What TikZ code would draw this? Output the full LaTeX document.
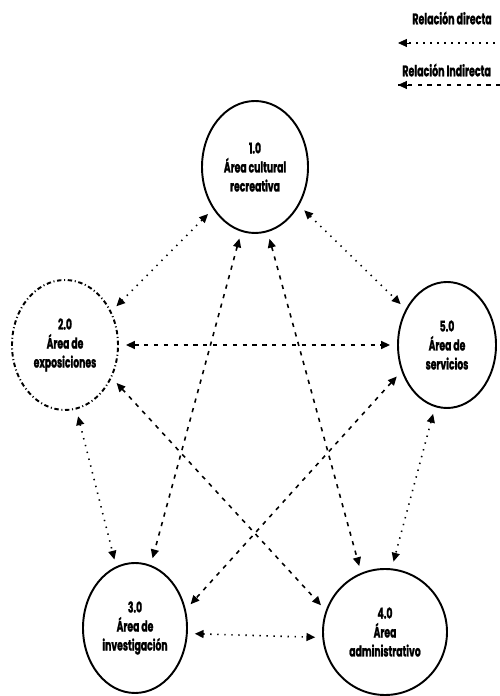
\documentclass[tikz,border=0pt]{standalone}
\usepackage{fontspec}
\setmainfont{Poppins}[FakeStretch=0.62,BoldFeatures={FakeBold=1.2}]
\usepackage{tikz}
\usetikzlibrary{arrows.meta,positioning,shapes.geometric}

\tikzset{
  area/.style={draw,ellipse,line width=1.1pt,inner sep=0pt,align=center,
    font=\bfseries\fontsize{8.5}{10.8}\selectfont},
  directa/.style={<->,line width=0.9pt,dash pattern=on 0.8pt off 3.2pt},
  indirecta/.style={<->,line width=0.9pt,dash pattern=on 2.4pt off 3.2pt},
  legtext/.style={anchor=west,inner sep=0pt,font=\bfseries\fontsize{8.7}{9}\selectfont}
}

\begin{document}
\begin{tikzpicture}[>={Triangle[length=5pt,width=4.5pt]},
    shorten >=4pt, shorten <=4pt]
  \useasboundingbox (0,0) rectangle (10,13.92);
  \clip (0,0) rectangle (10,13.92);

  % Legend
  \node[legtext] (ldir) at (8.24,13.56) {Relación directa};
  \coordinate (ldirA) at (7.96,13.06);
  \coordinate (ldirB) at (10.6,13.06);
  \draw[directa,-,shorten <=0pt,shorten >=0pt] (ldirB) -- (ldirA);
  \draw[-{Triangle[length=5pt,width=4.5pt]},shorten >=0pt] ([xshift=2pt]ldirA) -- (ldirA);
  \node[legtext] (lind) at (8.04,12.52) {Relación Indirecta};
  \coordinate (lindA) at (7.96,12.22);
  \coordinate (lindB) at (10.6,12.22);
  \draw[indirecta,-,shorten <=0pt,shorten >=0pt] (lindB) -- (lindA);
  \draw[-{Triangle[length=5pt,width=4.5pt]},shorten >=0pt] ([xshift=2pt]lindA) -- (lindA);

  % Areas
  \node[area,minimum width=2.12cm,minimum height=2.64cm] (n1) at (5.10,10.58)
    {1.0\\Área cultural\\recreativa};
  \node[area,minimum width=2.12cm,minimum height=2.60cm,
    dash pattern=on 2.5pt off 1.5pt on 0.6pt off 1.5pt] (n2) at (1.30,7.02)
    {2.0\\Área de\\exposiciones};
  \node[area,minimum width=1.96cm,minimum height=2.52cm] (n5) at (8.94,7.02)
    {5.0\\Área de\\servicios};
  \node[area,minimum width=2.08cm,minimum height=2.60cm] (n3) at (2.70,1.36)
    {3.0\\Área de\\investigación};
  \node[area,minimum width=2.48cm,minimum height=2.52cm] (n4) at (7.70,1.28)
    {4.0\\Área\\administrativo};

  % Direct relations
  \draw[directa] (n1.225) -- (n2.36);
  \draw[directa] (n1.319) -- (n5.139);
  \draw[directa] (n2.280) -- (n3.107);
  \draw[directa] (n5.259) -- (n4.84);
  \draw[directa] (n3.-6) -- (n4.185);

  % Indirect relations
  \draw[indirecta] (n2.east) -- (n5.west);
  \draw[indirecta] (n1.258) -- (n3.76);
  \draw[indirecta] (n1.281) -- (n4.112);
  \draw[indirecta] (n2.325) -- (n4.160);
  \draw[indirecta] (n5.210) -- (n3.20);
\end{tikzpicture}
\end{document}
